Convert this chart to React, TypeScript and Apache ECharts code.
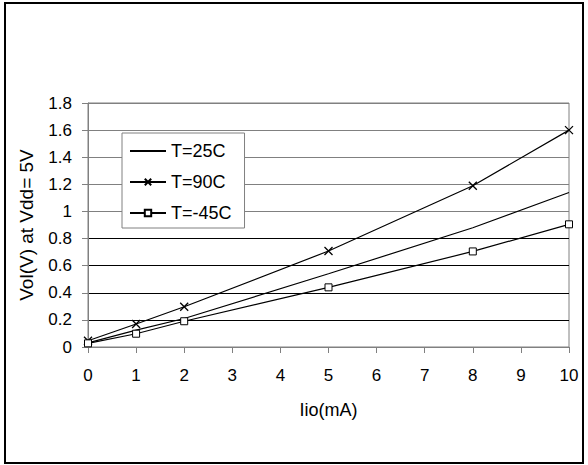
import React, { useEffect, useRef } from "react";
import * as echarts from "echarts";

const xValues = [0, 1, 2, 5, 8, 10];
const t25 = [0.03, 0.125, 0.21, 0.54, 0.88, 1.14];
const t90 = [0.046, 0.17, 0.297, 0.708, 1.19, 1.6];
const tm45 = [0.027, 0.098, 0.19, 0.44, 0.705, 0.905];
const seriesNames = ["T=25C", "T=90C", "T=-45C"];
const xName = "Iio(mA)";
const yName = "Vol(V) at Vdd= 5V";

const FONT = "'Liberation Sans', Arial, sans-serif";
const TICK_FS = 17;

export default function App() {
  const ref = useRef<HTMLDivElement>(null);
  useEffect(() => {
    if (!ref.current) return;
    const chart = echarts.init(ref.current, undefined, { renderer: "svg" });
    const pair = (ys: number[]) => xValues.map((x, i) => [x, ys[i]]);
    const gray = "#808080";
    chart.setOption({
      animation: false,
      backgroundColor: "#fff",
      textStyle: { fontFamily: FONT, color: "#000" },
      grid: {
        left: 88,
        top: 103,
        right: 19,
        bottom: 118,
        show: true,
        borderColor: gray,
        borderWidth: 1,
        backgroundColor: "transparent",
      },
      xAxis: {
        type: "value",
        min: 0,
        max: 10,
        interval: 1,
        name: xName,
        nameLocation: "middle",
        nameGap: 54,
        nameTextStyle: { fontSize: 18, fontFamily: FONT, color: "#000" },
        axisLine: { show: true, lineStyle: { color: gray, width: 1 } },
        axisTick: { show: true, length: 6, lineStyle: { color: gray } },
        axisLabel: { fontSize: TICK_FS, fontFamily: FONT, color: "#000", margin: 20 },
        splitLine: { show: false },
      },
      yAxis: {
        type: "value",
        min: 0,
        max: 1.8,
        interval: 0.2,
        name: yName,
        nameLocation: "middle",
        nameGap: 52,
        nameTextStyle: { fontSize: 19, fontFamily: FONT, color: "#000" },
        axisLine: { show: true, lineStyle: { color: gray, width: 1 } },
        axisTick: { show: true, length: 6, lineStyle: { color: gray } },
        axisLabel: {
          fontSize: TICK_FS,
          fontFamily: FONT,
          color: "#000",
          margin: 16,
          formatter: (v: number) => String(Math.round(v * 10) / 10),
        },
        splitLine: {
          show: true,
          lineStyle: {
            width: 1,
            color: ["#000", "#000", "#000", "#000", "#000", gray, gray, gray, gray, gray],
          },
        },
      },
      legend: {
        show: true,
        orient: "vertical",
        left: 122,
        top: 133,
        itemWidth: 36,
        itemHeight: 8,
        itemGap: 13,
        padding: [9, 13, 6, 7],
        borderColor: gray,
        borderWidth: 1,
        backgroundColor: "#fff",
        textStyle: { fontSize: 18, fontFamily: FONT, color: "#000" },
        data: [
          { name: seriesNames[0], itemStyle: { color: "transparent", borderColor: "transparent", opacity: 0 } },
          { name: seriesNames[1] },
          { name: seriesNames[2] },
        ],
      },
      series: [
        {
          name: seriesNames[0],
          type: "line",
          data: pair(t25),
          symbol: "none",
          lineStyle: { color: "#000", width: 1.2 },
          itemStyle: { color: "#000" },
        },
        {
          name: seriesNames[1],
          type: "line",
          data: pair(t90),
          symbol: "path://M0,0L10,10M10,0L0,10",
          symbolSize: 8,
          showSymbol: true,
          lineStyle: { color: "#000", width: 1.2 },
          itemStyle: { color: "transparent", borderColor: "#000", borderWidth: 1.3 },
        },
        {
          name: seriesNames[2],
          type: "line",
          data: pair(tm45),
          symbol: "rect",
          symbolSize: 7,
          showSymbol: true,
          lineStyle: { color: "#000", width: 1.2 },
          itemStyle: { color: "#fff", borderColor: "#000", borderWidth: 1 },
        },
      ],
      graphic: [
        {
          type: "rect",
          shape: { x: 5, y: 3, width: 578, height: 460 },
          style: { fill: "none", stroke: "#000", lineWidth: 2 },
          z: 100,
        },
      ],
    });
    return () => chart.dispose();
  }, []);
  return (
    <div
      ref={ref}
      style={{ position: "fixed", left: 0, top: 0, width: 588, height: 465, background: "#fff" }}
    />
  );
}
